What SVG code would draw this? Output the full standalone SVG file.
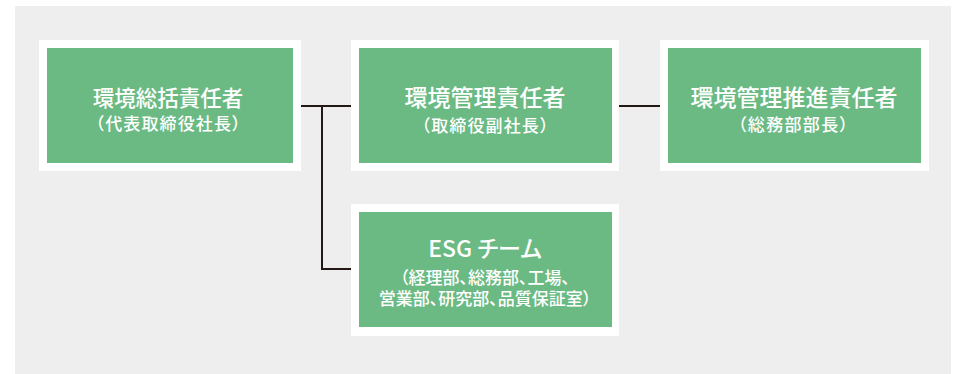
<svg xmlns="http://www.w3.org/2000/svg" width="955" height="374" viewBox="0 0 955 374">
<style>
.outer{fill:#ffffff}
.inner{fill:#6bba83}
.t{fill:#ffffff;font-family:"Noto Sans CJK JP","Noto Sans",sans-serif;text-anchor:middle}
.h1{font-size:21.5px;font-weight:500;font-feature-settings:"palt"}
.h2{font-size:23px;font-weight:500;font-feature-settings:"palt"}
.s{font-size:17px;font-weight:500;font-feature-settings:"palt"}
.p{font-size:17px;font-weight:500;font-feature-settings:"palt"}
.c{stroke:#231815;stroke-width:2;fill:none}
</style>
<rect x="15" y="6" width="936" height="368" fill="#eeeeee"/>
<g id="connectors">
<line class="c" x1="301" y1="106" x2="351" y2="106"/>
<polyline class="c" points="322,106 322,269 351,269"/>
<line class="c" x1="619" y1="106" x2="660" y2="106"/>
</g>
<g id="node1">
<rect class="outer" x="39" y="40" width="262" height="131"/>
<rect class="inner" x="47" y="48" width="246" height="115"/>
<text class="t h1" x="168" y="106">環境総括責任者</text>
<text class="t s" x="168" y="130" textLength="145">（代表取締役社長）</text>
</g>
<g id="node2">
<rect class="outer" x="351" y="40" width="268" height="131"/>
<rect class="inner" x="359" y="48" width="253" height="115"/>
<text class="t h2" x="485" y="106">環境管理責任者</text>
<text class="t s" x="485" y="132" textLength="127">（取締役副社長）</text>
</g>
<g id="node3">
<rect class="outer" x="660" y="40" width="269" height="131"/>
<rect class="inner" x="668" y="48" width="253" height="115"/>
<text class="t h2" x="794" y="106">環境管理推進責任者</text>
<text class="t s" x="793" y="131" textLength="110">（総務部部長）</text>
</g>
<g id="node4">
<rect class="outer" x="351" y="204" width="268" height="132"/>
<rect class="inner" x="359" y="212" width="253" height="115"/>
<text class="t h2" x="485" y="257">ESG チーム</text>
<text class="t p" x="485" y="284">（経理部、総務部、工場、</text>
<text class="t p" x="485" y="305">営業部、研究部、品質保証室）</text>
</g>
</svg>
